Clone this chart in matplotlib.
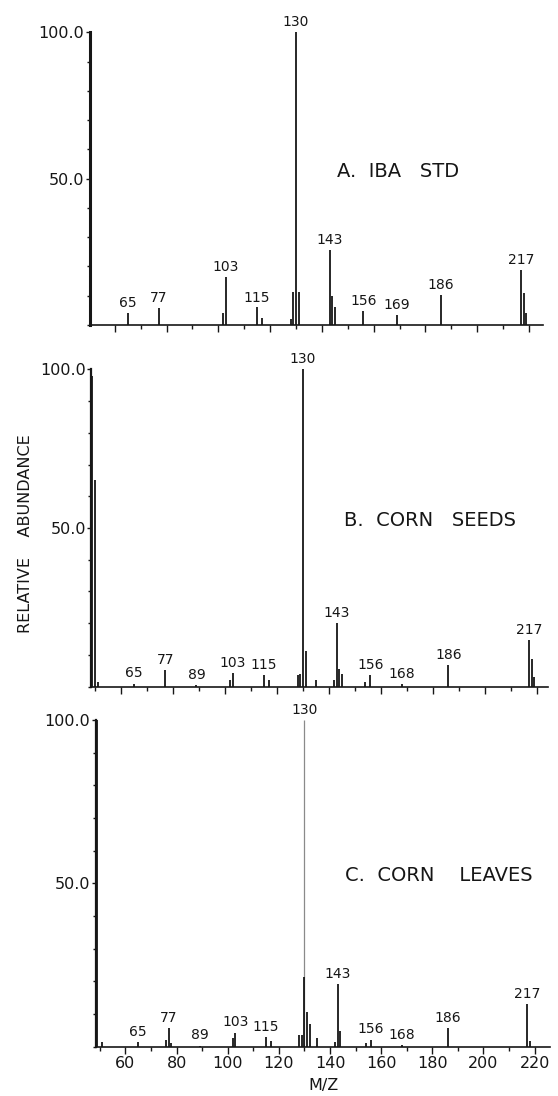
import matplotlib
matplotlib.use("Agg")
import matplotlib.pyplot as plt
from matplotlib.ticker import MultipleLocator, FixedLocator, NullFormatter

# Peak lists (m/z, relative abundance %)
mz_a = [65, 77, 102, 103, 115, 117, 128, 129, 130, 131, 143, 144, 145,
        156, 169, 186, 217, 218, 219]
ab_a = [4.0, 5.7, 4.0, 16.5, 6.0, 2.3, 2.0, 11.2, 100, 11.2, 25.6, 9.9, 6.0,
        4.9, 3.4, 10.3, 18.8, 11.0, 4.2]
lab_a = [65, 77, 103, 115, 130, 143, 156, 169, 186, 217]

mz_b = [49.0, 49.8, 51, 65, 77, 89, 102, 103, 115, 117, 128, 129, 130, 131, 135,
        142, 143, 144, 145, 154, 156, 168, 186, 217, 218, 219]
ab_b = [98, 65, 1.6, 1.0, 5.3, 0.5, 2.0, 4.2, 3.7, 2.0, 3.7, 4.0, 100, 11.3, 2.0,
        2.0, 20.0, 5.5, 4.0, 1.5, 3.7, 0.8, 6.8, 14.7, 8.6, 3.0]
lab_b = [65, 77, 89, 103, 115, 130, 143, 156, 168, 186, 217]

mz_c = [48.8, 51, 65, 76, 77, 78, 89, 102, 103, 115, 117, 128, 129, 130, 131, 132,
        135, 142, 143, 144, 154, 156, 168, 186, 217, 218]
ab_c = [100, 1.5, 1.5, 2.0, 5.6, 1.0, 0.3, 2.6, 4.3, 2.9, 1.8, 3.6, 3.6, 100, 10.7,
        7.0, 2.8, 1.5, 19.2, 4.9, 1.0, 2.2, 0.5, 5.6, 13.0, 1.8]
lab_c = [65, 77, 89, 103, 115, 130, 143, 156, 168, 186, 217]
# in trace C the base peak is faint above this level
c130_dark = 21.4

titles = ["A.  IBA   STD", "B.  CORN   SEEDS", "C.  CORN    LEAVES"]
xtick_labels = [60, 80, 100, 120, 140, 160, 180, 200, 220]

W, H = 558, 1096
# panel boxes in pixels: left, right, bottom (baseline), top (100 %)
boxes = [(89.6, 543, 325, 32.3), (91.4, 547.7, 686.7, 369.3), (96, 550, 1046.7, 720)]
xlims = [(50.3, 225.4), (48.6, 224.2), (48.5, 226.0)]
spine_w = [2.2, 1.6, 1.6]

ink = "#161616"
fig = plt.figure(figsize=(W / 100, H / 100), dpi=100)

panels = [(mz_a, ab_a, lab_a), (mz_b, ab_b, lab_b), (mz_c, ab_c, lab_c)]
for i, (mz, ab, lab) in enumerate(panels):
    l, r, b, t = boxes[i]
    ax = fig.add_axes([l / W, 1 - b / H, (r - l) / W, (b - t) / H])
    ax.set_xlim(*xlims[i])
    ax.set_ylim(0, 100)

    cols = [ink] * len(mz)
    widths = [1.3] * len(mz)
    if i == 2:
        k = mz.index(130)
        cols[k] = "#8a8a8a"
        widths[k] = 0.9
    ax.vlines(mz, 0, ab, colors=cols, linewidths=widths, clip_on=False)
    if i == 2:
        ax.vlines([130], 0, c130_dark, colors=ink, linewidths=1.3)

    for m in lab:
        h = ab[mz.index(m)]
        ax.text(m, h + 1.0, str(m), ha="center", va="bottom", fontsize=10,
                color=ink)

    ax.text(146, 52.5, titles[i], ha="left", va="center", fontsize=14, color=ink)

    for s in ["top", "right"]:
        ax.spines[s].set_visible(False)
    ax.spines["left"].set_linewidth(spine_w[i])
    ax.spines["bottom"].set_linewidth(1.2)
    ax.spines["left"].set_color(ink)
    ax.spines["bottom"].set_color(ink)

    ax.yaxis.set_major_locator(FixedLocator([50, 100]))
    ax.set_yticklabels(["50.0", "100.0"])
    ax.yaxis.set_minor_locator(MultipleLocator(10))
    ax.tick_params(axis="y", which="major", length=3, width=1, labelsize=11.5,
                   colors=ink, pad=1)
    ax.tick_params(axis="y", which="minor", length=2.5, width=1, colors=ink)

    ax.xaxis.set_major_locator(FixedLocator(xtick_labels))
    ax.xaxis.set_minor_locator(MultipleLocator(10))
    ax.tick_params(axis="x", which="major", length=5, width=1, colors=ink,
                   labelsize=11.5, pad=2)
    ax.tick_params(axis="x", which="minor", length=3, width=1, colors=ink)
    if i < 2:
        ax.xaxis.set_major_formatter(NullFormatter())
    else:
        ax.set_xlabel("M/Z", fontsize=11.5, color=ink, labelpad=5)

fig.text(26 / W, 1 - 534 / H, "RELATIVE    ABUNDANCE", rotation=90, ha="center",
         va="center", fontsize=11.5, color=ink)

fig.savefig("out.png", dpi=100)
